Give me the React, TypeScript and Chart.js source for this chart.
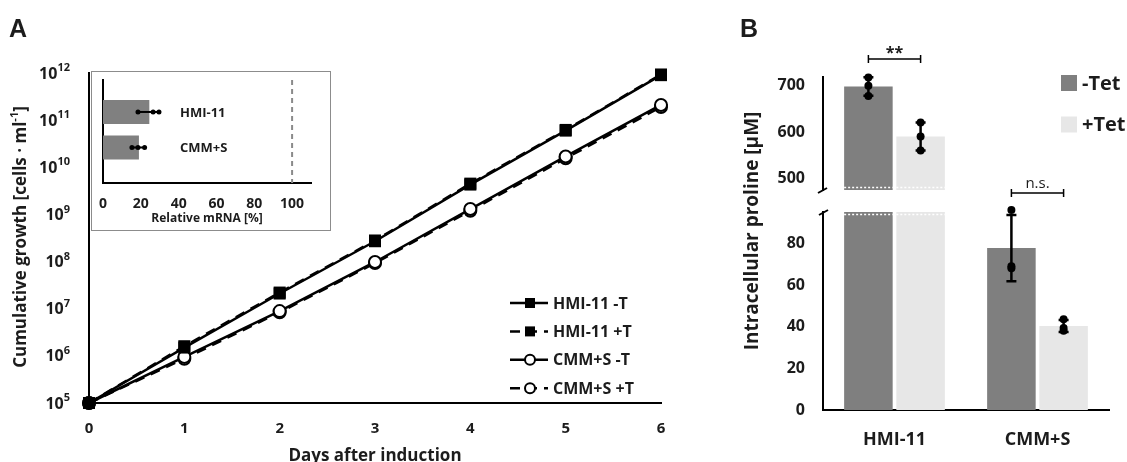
import React, { useEffect, useRef } from 'react';
import { Chart, registerables } from 'chart.js';

Chart.register(...registerables);

const FONT = "'Open Sans', 'Noto Sans', sans-serif";
const TEXT = '#1c1c1c';

// ---------- Panel A: cumulative growth ----------
const DAYS = [0, 1, 2, 3, 4, 5, 6];
const HMI_MINUS_T = [1e5, 1.5e6, 2.1e7, 2.7e8, 4.3e9, 6.0e10, 9.0e11];
const HMI_PLUS_T = [1e5, 1.6e6, 2.2e7, 2.8e8, 4.5e9, 6.2e10, 9.3e11];
const CMM_MINUS_T = [1e5, 9.5e5, 8.9e6, 9.8e7, 1.3e9, 1.7e10, 2.1e11];
const CMM_PLUS_T = [1e5, 8.7e5, 8.4e6, 9.3e7, 1.2e9, 1.55e10, 1.9e11];
const SERIES_A_LABELS = ['HMI-11 -T', 'HMI-11 +T', 'CMM+S -T', 'CMM+S +T'];
const Y_EXPONENTS = [5, 6, 7, 8, 9, 10, 11, 12];
const X_TICKS_A = [0, 1, 2, 3, 4, 5, 6];

// ---------- Inset: relative mRNA ----------
const INSET_CATEGORIES = ['HMI-11', 'CMM+S'];
const INSET_MEANS = [24.5, 19.0];
const INSET_REPLICATES = [
  [18.5, 26.5, 29.6],
  [15.3, 18.5, 22.0],
];
const INSET_TICKS = [0, 20, 40, 60, 80, 100];
const INSET_REFERENCE = 100;

// ---------- Panel B: intracellular proline ----------
const CATEGORIES_B = ['HMI-11', 'CMM+S'];
const TET_LABELS = ['-Tet', '+Tet'];
const MINUS_TET_MEANS = [698.7, 77.7];
const PLUS_TET_MEANS = [591, 40.3];
const MINUS_TET_REPS = [
  [718, 700, 678],
  [96, 69, 68],
];
const PLUS_TET_REPS = [
  [621, 591, 561],
  [43.6, 39.3, 38.0],
];
const TOP_TICKS = [500, 600, 700];
const BOTTOM_TICKS = [0, 20, 40, 60, 80];
const TOP_RANGE = [476, 719];
const BOTTOM_RANGE = [0, 95];
const SIGNIFICANCE = ['**', 'n.s.'];

const REPS_B = [MINUS_TET_REPS, PLUS_TET_REPS];

function mean(a: number[]) {
  return a.reduce((s, v) => s + v, 0) / a.length;
}
function sd(a: number[]) {
  const m = mean(a);
  return Math.sqrt(a.reduce((s, v) => s + (v - m) ** 2, 0) / (a.length - 1));
}
function toXY(values: number[]) {
  return values.map((v, i) => ({ x: DAYS[i], y: v }));
}

function drawRotatedSegments(ctx: CanvasRenderingContext2D, cx: number, cy: number, segs: any[]) {
  ctx.save();
  ctx.translate(cx, cy);
  ctx.rotate(-Math.PI / 2);
  ctx.textBaseline = 'middle';
  ctx.textAlign = 'left';
  let total = 0;
  segs.forEach((s) => {
    ctx.font = `bold ${s.size}px ${FONT}`;
    s.w = ctx.measureText(s.t).width;
    total += s.w;
  });
  let x = -total / 2;
  segs.forEach((s) => {
    ctx.font = `bold ${s.size}px ${FONT}`;
    ctx.fillText(s.t, x, s.dy);
    x += s.w;
  });
  ctx.restore();
}

const panelAPlugin = {
  id: 'panelA',
  afterDraw(chart: any) {
    const { ctx } = chart;
    const yS = chart.scales.y;
    ctx.save();
    ctx.fillStyle = TEXT;
    ctx.font = `bold 25px 'Liberation Sans', Arial, sans-serif`;
    ctx.textBaseline = 'alphabetic';
    ctx.textAlign = 'left';
    ctx.fillText('A', 9, 37);
    const right = 70;
    Y_EXPONENTS.forEach((e) => {
      const y = yS.getPixelForValue(Math.pow(10, e));
      const exp = String(e);
      ctx.font = `bold 11px ${FONT}`;
      const ew = ctx.measureText(exp).width;
      ctx.textBaseline = 'middle';
      ctx.font = `bold 16px ${FONT}`;
      ctx.textAlign = 'right';
      ctx.fillText('10', right - ew, y + 1);
      ctx.font = `bold 11px ${FONT}`;
      ctx.textAlign = 'left';
      ctx.fillText(exp, right - ew, y - 5);
    });
    drawRotatedSegments(ctx, 21, 237, [
      { t: 'Cumulative growth [cells \u00b7 ml', size: 17, dy: 0 },
      { t: '-1', size: 11, dy: -6 },
      { t: ']', size: 17, dy: 0 },
    ]);
    const lx = 510;
    const ly = 303;
    const gap = 28.4;
    chart.data.datasets.forEach((ds: any, i: number) => {
      const y = ly + i * gap;
      ctx.save();
      ctx.strokeStyle = ds.borderColor;
      ctx.lineWidth = ds.borderWidth;
      ctx.setLineDash(ds.borderDash || []);
      ctx.beginPath();
      ctx.moveTo(lx, y);
      ctx.lineTo(lx + 38, y);
      ctx.stroke();
      ctx.setLineDash([]);
      const cx = lx + 20;
      if (ds.pointStyle === 'rect') {
        ctx.fillStyle = ds.pointBackgroundColor;
        ctx.fillRect(cx - 5, y - 5, 10, 10);
      } else {
        ctx.beginPath();
        ctx.arc(cx, y, 5, 0, Math.PI * 2);
        ctx.fillStyle = ds.pointBackgroundColor;
        ctx.fill();
        ctx.lineWidth = 2;
        ctx.strokeStyle = ds.pointBorderColor;
        ctx.stroke();
      }
      ctx.fillStyle = TEXT;
      ctx.font = `bold 16px ${FONT}`;
      ctx.textAlign = 'left';
      ctx.textBaseline = 'middle';
      ctx.fillText(ds.label, lx + 43, y + 1);
      ctx.restore();
    });
    ctx.restore();
  },
};

const insetPlugin = {
  id: 'inset',
  afterDatasetsDraw(chart: any) {
    const { ctx, chartArea } = chart;
    const xS = chart.scales.x;
    const yS = chart.scales.y;
    ctx.save();
    const rx = xS.getPixelForValue(INSET_REFERENCE);
    ctx.strokeStyle = '#8a8a8a';
    ctx.lineWidth = 2;
    ctx.setLineDash([5, 4]);
    ctx.beginPath();
    ctx.moveTo(rx, chartArea.top);
    ctx.lineTo(rx, chartArea.bottom);
    ctx.stroke();
    ctx.setLineDash([]);
    INSET_REPLICATES.forEach((reps, i) => {
      const y = yS.getPixelForValue(i + 1);
      const xs = reps.map((v) => xS.getPixelForValue(v));
      ctx.strokeStyle = '#000';
      ctx.lineWidth = 2;
      ctx.beginPath();
      ctx.moveTo(Math.min(...xs), y);
      ctx.lineTo(Math.max(...xs), y);
      ctx.stroke();
      ctx.fillStyle = '#000';
      xs.forEach((x) => {
        ctx.beginPath();
        ctx.arc(x, y, 2.5, 0, Math.PI * 2);
        ctx.fill();
      });
      ctx.fillStyle = TEXT;
      ctx.font = `bold 13px ${FONT}`;
      ctx.textAlign = 'left';
      ctx.textBaseline = 'middle';
      ctx.fillText(INSET_CATEGORIES[i], chartArea.left + 77, y + 1);
    });
    ctx.fillStyle = TEXT;
    ctx.font = `bold 14px ${FONT}`;
    ctx.textAlign = 'center';
    ctx.textBaseline = 'middle';
    INSET_TICKS.forEach((v) => {
      ctx.fillText(String(v), xS.getPixelForValue(v), chartArea.bottom + 21);
    });
    ctx.restore();
  },
};

function errorBarsPlugin(id: string) {
  return {
    id,
    afterDatasetsDraw(chart: any) {
      const { ctx, chartArea } = chart;
      const yS = chart.scales.y;
      ctx.save();
      ctx.beginPath();
      ctx.rect(chartArea.left, chartArea.top - 8, chartArea.right - chartArea.left, chartArea.bottom - chartArea.top + 16);
      ctx.clip();
      REPS_B.forEach((group, di) => {
        const meta = chart.getDatasetMeta(di);
        group.forEach((vals, ci) => {
          const x = meta.data[ci].x;
          const m = mean(vals);
          const s = sd(vals);
          const y1 = yS.getPixelForValue(m - s);
          const y2 = yS.getPixelForValue(m + s);
          ctx.strokeStyle = '#000';
          ctx.lineWidth = 2.5;
          ctx.beginPath();
          ctx.moveTo(x, y1);
          ctx.lineTo(x, y2);
          ctx.moveTo(x - 5, y1);
          ctx.lineTo(x + 5, y1);
          ctx.moveTo(x - 5, y2);
          ctx.lineTo(x + 5, y2);
          ctx.stroke();
          ctx.fillStyle = '#000';
          vals.forEach((v) => {
            ctx.beginPath();
            ctx.arc(x, yS.getPixelForValue(v), 4, 0, Math.PI * 2);
            ctx.fill();
          });
        });
      });
      ctx.restore();
    },
  };
}

function bracket(ctx: CanvasRenderingContext2D, x1: number, x2: number, y: number) {
  ctx.strokeStyle = '#000';
  ctx.lineWidth = 1.5;
  ctx.beginPath();
  ctx.moveTo(x1, y);
  ctx.lineTo(x2, y);
  ctx.moveTo(x1, y - 4);
  ctx.lineTo(x1, y + 4);
  ctx.moveTo(x2, y - 4);
  ctx.lineTo(x2, y + 4);
  ctx.stroke();
}

const bTopPlugin = {
  id: 'bTop',
  afterDraw(chart: any) {
    const { ctx, chartArea } = chart;
    ctx.save();
    chart.data.datasets.forEach((ds: any, di: number) => {
      chart.getDatasetMeta(di).data.forEach((bar: any) => {
        if (bar.y < chartArea.bottom) {
          ctx.strokeStyle = '#fff';
          ctx.lineWidth = 1.5;
          ctx.setLineDash([2, 2]);
          ctx.beginPath();
          ctx.moveTo(bar.x - bar.width / 2, chartArea.bottom - 2.5);
          ctx.lineTo(bar.x + bar.width / 2, chartArea.bottom - 2.5);
          ctx.stroke();
          ctx.setLineDash([]);
        }
      });
    });
    ctx.strokeStyle = '#000';
    ctx.lineWidth = 2;
    ctx.beginPath();
    ctx.moveTo(chartArea.left + 4, chartArea.bottom - 2);
    ctx.lineTo(chartArea.left - 5, chartArea.bottom + 3);
    ctx.stroke();
    ctx.fillStyle = TEXT;
    ctx.font = `bold 25px 'Liberation Sans', Arial, sans-serif`;
    ctx.textAlign = 'left';
    ctx.textBaseline = 'alphabetic';
    ctx.fillText('B', 20, 37);
    const a = chart.getDatasetMeta(0).data[0];
    const b = chart.getDatasetMeta(1).data[0];
    const by = chartArea.top - 18;
    bracket(ctx, a.x, b.x, by);
    ctx.fillStyle = TEXT;
    ctx.font = `bold 16px ${FONT}`;
    ctx.textAlign = 'center';
    ctx.textBaseline = 'alphabetic';
    ctx.fillText(SIGNIFICANCE[0], (a.x + b.x) / 2, by - 1);
    chart.data.datasets.forEach((ds: any, i: number) => {
      const y = 83 + i * 41.5;
      ctx.fillStyle = ds.backgroundColor;
      ctx.fillRect(341, y - 8, 16, 16);
      ctx.fillStyle = TEXT;
      ctx.font = `bold 20px ${FONT}`;
      ctx.textAlign = 'left';
      ctx.textBaseline = 'middle';
      ctx.fillText(ds.label, 362, y + 1);
    });
    ctx.restore();
  },
};

const bBottomPlugin = {
  id: 'bBottom',
  afterDraw(chart: any) {
    const { ctx, chartArea } = chart;
    ctx.save();
    chart.data.datasets.forEach((ds: any, di: number) => {
      chart.getDatasetMeta(di).data.forEach((bar: any) => {
        if (bar.y < chartArea.top) {
          ctx.strokeStyle = '#fff';
          ctx.lineWidth = 1.5;
          ctx.setLineDash([2, 2]);
          ctx.beginPath();
          ctx.moveTo(bar.x - bar.width / 2, chartArea.top + 2.5);
          ctx.lineTo(bar.x + bar.width / 2, chartArea.top + 2.5);
          ctx.stroke();
          ctx.setLineDash([]);
        }
      });
    });
    ctx.strokeStyle = '#000';
    ctx.lineWidth = 2;
    ctx.beginPath();
    ctx.moveTo(chartArea.left - 4, chartArea.top + 3);
    ctx.lineTo(chartArea.left + 5, chartArea.top - 2);
    ctx.stroke();
    ctx.fillStyle = TEXT;
    drawRotatedSegments(ctx, 33, 231, [{ t: 'Intracellular proline [\u03bcM]', size: 19, dy: 0 }]);
    const a = chart.getDatasetMeta(0).data[1];
    const b = chart.getDatasetMeta(1).data[1];
    const by = chartArea.top - 19;
    bracket(ctx, a.x, b.x, by);
    ctx.fillStyle = TEXT;
    ctx.font = `15px ${FONT}`;
    ctx.textAlign = 'center';
    ctx.textBaseline = 'alphabetic';
    ctx.fillText(SIGNIFICANCE[1], (a.x + b.x) / 2, by - 5);
    ctx.restore();
  },
};

function barDatasetsB() {
  return [
    {
      label: TET_LABELS[0],
      data: MINUS_TET_MEANS,
      backgroundColor: '#7f7f7f',
      categoryPercentage: 0.73,
      barPercentage: 0.93,
    },
    {
      label: TET_LABELS[1],
      data: PLUS_TET_MEANS,
      backgroundColor: '#e7e7e7',
      categoryPercentage: 0.73,
      barPercentage: 0.93,
    },
  ];
}

function yAxisB(range: number[], ticks: number[]) {
  return {
    type: 'linear',
    min: range[0],
    max: range[1],
    afterBuildTicks: (s: any) => {
      s.ticks = ticks.map((v) => ({ value: v }));
    },
    grid: { display: false, drawTicks: false },
    border: { display: true, color: '#000', width: 2 },
    ticks: { padding: 18, color: TEXT, font: { family: FONT, size: 16, weight: 'bold' } },
    afterFit: (s: any) => {
      s.width = 103;
    },
  };
}

export default function App() {
  const aRef = useRef<HTMLCanvasElement>(null);
  const insetRef = useRef<HTMLCanvasElement>(null);
  const bTopRef = useRef<HTMLCanvasElement>(null);
  const bBotRef = useRef<HTMLCanvasElement>(null);

  useEffect(() => {
    Chart.defaults.font.family = FONT;
    Chart.defaults.color = TEXT;
    const charts: Chart[] = [];

    const solid = { borderColor: '#000', borderWidth: 2.5, tension: 0, clip: false as any };
    const square = { pointStyle: 'rect', pointRadius: 8.5, pointBackgroundColor: '#000', pointBorderColor: '#000', pointBorderWidth: 0 };
    const circle = { pointStyle: 'circle', pointRadius: 6, pointBackgroundColor: '#fff', pointBorderColor: '#000', pointBorderWidth: 2 };

    charts.push(
      new Chart(aRef.current!, {
        type: 'line',
        data: {
          datasets: [
            { label: SERIES_A_LABELS[0], data: toXY(HMI_MINUS_T), ...solid, ...square, borderDash: [] },
            { label: SERIES_A_LABELS[1], data: toXY(HMI_PLUS_T), ...solid, ...square, borderDash: [10, 7] },
            { label: SERIES_A_LABELS[2], data: toXY(CMM_MINUS_T), ...solid, ...circle, borderDash: [] },
            { label: SERIES_A_LABELS[3], data: toXY(CMM_PLUS_T), ...solid, ...circle, borderDash: [10, 7] },
          ] as any,
        },
        options: {
          responsive: false,
          animation: false,
          layout: { padding: { top: 73, right: 39, left: 0, bottom: 0 } },
          plugins: { legend: { display: false }, tooltip: { enabled: false } },
          scales: {
            x: {
              type: 'linear',
              min: 0,
              max: 6,
              afterBuildTicks: (s: any) => {
                s.ticks = X_TICKS_A.map((v) => ({ value: v }));
              },
              grid: { display: false, drawTicks: false },
              border: { display: true, color: '#000', width: 2 },
              ticks: { padding: 17, color: TEXT, font: { family: FONT, size: 15, weight: 'bold' } },
              title: {
                display: true,
                text: 'Days after induction',
                color: TEXT,
                font: { family: FONT, size: 17, weight: 'bold' },
                padding: { top: 0, bottom: -4 },
              },
              afterFit: (s: any) => {
                s.height = 59;
              },
            },
            y: {
              type: 'logarithmic',
              min: 1e5,
              max: 1e12,
              afterBuildTicks: (s: any) => {
                s.ticks = Y_EXPONENTS.map((e) => ({ value: Math.pow(10, e) }));
              },
              grid: { display: false, drawTicks: false },
              border: { display: true, color: '#000', width: 2 },
              ticks: { display: false },
              afterFit: (s: any) => {
                s.width = 89;
              },
            },
          } as any,
        },
        plugins: [panelAPlugin],
      })
    );

    charts.push(
      new Chart(insetRef.current!, {
        type: 'bar',
        data: {
          datasets: [
            {
              label: 'Relative mRNA',
              data: INSET_MEANS.map((v, i) => ({ x: v, y: i + 1 })),
              backgroundColor: '#808080',
              categoryPercentage: 1,
              barPercentage: 0.68,
            },
          ] as any,
        },
        options: {
          indexAxis: 'y',
          responsive: false,
          animation: false,
          layout: { padding: { top: 8, right: 19, left: 0, bottom: 0 } },
          plugins: { legend: { display: false }, tooltip: { enabled: false } },
          scales: {
            x: {
              type: 'linear',
              min: 0,
              max: 110,
              afterBuildTicks: (s: any) => {
                s.ticks = INSET_TICKS.map((v) => ({ value: v }));
              },
              grid: { display: false, drawTicks: false },
              border: { display: true, color: '#000', width: 2 },
              ticks: { display: false },
              title: {
                display: true,
                text: 'Relative mRNA [%]',
                color: TEXT,
                font: { family: FONT, size: 12, weight: 'bold' },
                padding: { top: 0, bottom: 4 },
              },
              afterFit: (s: any) => {
                s.height = 47;
              },
            },
            y: {
              type: 'linear',
              min: 0.1,
              max: 3.0,
              reverse: true,
              offset: false,
              afterBuildTicks: (s: any) => {
                s.ticks = INSET_CATEGORIES.map((_, i) => ({ value: i + 1 }));
              },
              grid: { display: false, drawTicks: false, offset: false },
              border: { display: true, color: '#000', width: 2 },
              ticks: { display: false },
              afterFit: (s: any) => {
                s.width = 11;
              },
            },
          } as any,
        },
        plugins: [insetPlugin],
      })
    );

    charts.push(
      new Chart(bBotRef.current!, {
        type: 'bar',
        data: { labels: CATEGORIES_B, datasets: barDatasetsB() as any },
        options: {
          responsive: false,
          animation: false,
          layout: { padding: { top: 212, right: 18, left: 0, bottom: 0 } },
          plugins: { legend: { display: false }, tooltip: { enabled: false } },
          scales: {
            x: {
              grid: { display: false, drawTicks: false },
              border: { display: true, color: '#000', width: 2 },
              ticks: { padding: 19, color: TEXT, font: { family: FONT, size: 18, weight: 'bold' } },
              afterFit: (s: any) => {
                s.height = 52;
              },
            },
            y: yAxisB(BOTTOM_RANGE, BOTTOM_TICKS),
          } as any,
        },
        plugins: [errorBarsPlugin('errBottom'), bBottomPlugin],
      })
    );

    charts.push(
      new Chart(bTopRef.current!, {
        type: 'bar',
        data: { labels: CATEGORIES_B, datasets: barDatasetsB() as any },
        options: {
          responsive: false,
          animation: false,
          layout: { padding: { top: 77, right: 18, left: 0, bottom: 272 } },
          plugins: { legend: { display: false }, tooltip: { enabled: false } },
          scales: {
            x: { display: false },
            y: yAxisB(TOP_RANGE, TOP_TICKS),
          } as any,
        },
        plugins: [errorBarsPlugin('errTop'), bTopPlugin],
      })
    );

    return () => charts.forEach((c) => c.destroy());
  }, []);

  return (
    <div style={{ position: 'absolute', left: 0, top: 0, width: 1127, height: 462, background: '#fff', overflow: 'hidden' }}>
      <canvas ref={aRef} width={700} height={462} style={{ position: 'absolute', left: 0, top: 0 }} />
      <div
        style={{
          position: 'absolute',
          left: 91,
          top: 71,
          width: 240,
          height: 160,
          border: '1px solid #8c8c8c',
          boxSizing: 'border-box',
          background: '#fff',
        }}
      >
        <canvas ref={insetRef} width={238} height={158} style={{ position: 'absolute', left: 0, top: 0 }} />
      </div>
      <canvas ref={bBotRef} width={407} height={462} style={{ position: 'absolute', left: 720, top: 0 }} />
      <canvas ref={bTopRef} width={407} height={462} style={{ position: 'absolute', left: 720, top: 0 }} />
    </div>
  );
}
